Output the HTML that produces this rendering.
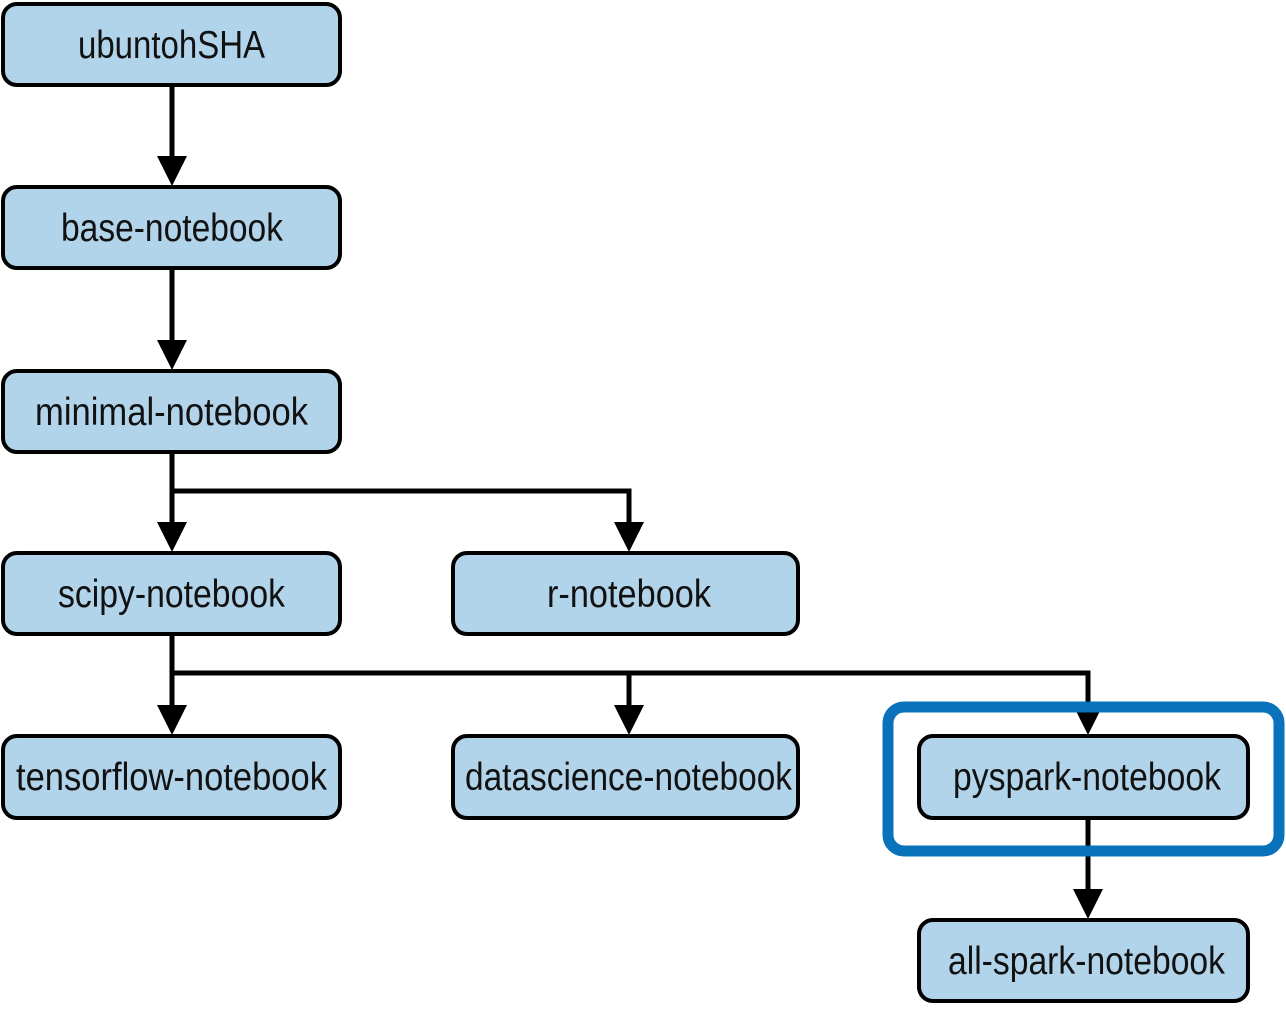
<!DOCTYPE html>
<html><head><style>html,body{margin:0;padding:0;background:#fff}</style></head><body>
<svg width="1286" height="1005" xmlns="http://www.w3.org/2000/svg">
<g fill="none" stroke="#000" stroke-width="5">
<path d="M172,86 V158"/><path d="M172,269 V342"/><path d="M172,453 V524"/>
<path d="M172,491 H629 V524"/>
<path d="M172,635 V707"/><path d="M172,673 H1088 V707"/><path d="M629,673 V707"/>
<path d="M1088,819 V890"/>
</g>
<g fill="#000">
<path d="M157,156 L187,156 L172,186z"/><path d="M157,340 L187,340 L172,370z"/>
<path d="M157,522 L187,522 L172,552z"/><path d="M614,522 L644,522 L629,552z"/>
<path d="M157,705 L187,705 L172,735z"/><path d="M614,705 L644,705 L629,735z"/>
<path d="M1073,705 L1103,705 L1088,735z"/><path d="M1073,889 L1103,889 L1088,919z"/>
</g>
<rect x="888" y="707" width="391" height="144" rx="16" fill="none" stroke="#0a72bb" stroke-width="11"/>
<g fill="#b2d4ea" stroke="#000" stroke-width="4">
<rect x="3" y="4" width="337" height="81" rx="14"/>
<rect x="3" y="187" width="337" height="81" rx="14"/>
<rect x="3" y="371" width="337" height="81" rx="14"/>
<rect x="3" y="553" width="337" height="81" rx="14"/>
<rect x="453" y="553" width="345" height="81" rx="14"/>
<rect x="3" y="736" width="337" height="82" rx="14"/>
<rect x="453" y="736" width="345" height="82" rx="14"/>
<rect x="919" y="736" width="329" height="82" rx="14"/>
<rect x="919" y="920" width="329" height="81" rx="14"/>
</g>
<g font-family="Liberation Sans, sans-serif" font-size="39" fill="#111">
<text x="78" y="58" textLength="187" lengthAdjust="spacingAndGlyphs">ubuntohSHA</text>
<text x="61" y="241" textLength="222" lengthAdjust="spacingAndGlyphs">base-notebook</text>
<text x="35" y="425" textLength="273" lengthAdjust="spacingAndGlyphs">minimal-notebook</text>
<text x="58" y="607" textLength="227" lengthAdjust="spacingAndGlyphs">scipy-notebook</text>
<text x="547" y="607" textLength="164" lengthAdjust="spacingAndGlyphs">r-notebook</text>
<text x="16" y="790" textLength="311" lengthAdjust="spacingAndGlyphs">tensorflow-notebook</text>
<text x="465" y="790" textLength="327" lengthAdjust="spacingAndGlyphs">datascience-notebook</text>
<text x="953" y="790" textLength="268" lengthAdjust="spacingAndGlyphs">pyspark-notebook</text>
<text x="948" y="974" textLength="277" lengthAdjust="spacingAndGlyphs">all-spark-notebook</text>
</g>
</svg>
</body></html>
